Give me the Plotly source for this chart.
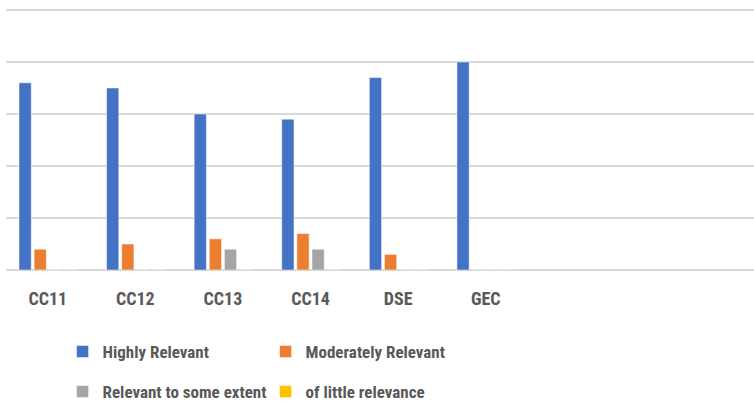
import plotly.graph_objects as go

# courses on the x axis
courses = ["CC11", "CC12", "CC13", "CC14", "DSE", "GEC"]

# responses per course
highly_relevant = [72, 70, 60, 58, 74, 80]
moderately_relevant = [8, 10, 12, 14, 6, 0]
some_extent = [0, 0, 8, 8, 0, 0]
little_relevance = [0, 0, 0, 0, 0, 0]

FONT = "Liberation Sans Narrow, Roboto Condensed, Roboto, Noto Sans"
GREY = "#595959"

fig = go.Figure()
fig.add_trace(go.Bar(x=courses, y=highly_relevant, name="Highly Relevant",
                     marker=dict(color="#4472C4", line=dict(color="white", width=0.5)), legend="legend"))
fig.add_trace(go.Bar(x=courses, y=moderately_relevant, name="Moderately Relevant",
                     marker=dict(color="#ED7D31", line=dict(color="white", width=0.5)), legend="legend"))
fig.add_trace(go.Bar(x=courses, y=some_extent, name="Relevant to some extent",
                     marker=dict(color="#A5A5A5", line=dict(color="white", width=0.5)), legend="legend2"))
fig.add_trace(go.Bar(x=courses, y=little_relevance, name="of little relevance",
                     marker=dict(color="#FFC000", line=dict(color="white", width=0.5)), legend="legend2"))

legend_style = dict(orientation="h", xanchor="left", yanchor="middle", entrywidth=158,
                    xref="container", yref="container", itemwidth=30,
                    font=dict(family=FONT, size=17, color=GREY, weight="bold"),
                    bgcolor="rgba(0,0,0,0)")

fig.update_layout(
    width=754, height=405,
    margin=dict(l=6, r=0, t=8, b=135, autoexpand=False),
    plot_bgcolor="white", paper_bgcolor="white",
    barmode="group", bargap=0.31, bargroupgap=0.19,
    xaxis=dict(range=[-0.477, 8.063], showgrid=False, showline=False, ticks="", automargin=False,
               ticklabelstandoff=16,
               tickfont=dict(family=FONT, size=18, color=GREY, weight="bold")),
    yaxis=dict(range=[0, 100.77], dtick=20, showticklabels=False, gridcolor="#D9D9D9",
               gridwidth=1.5, zeroline=True, zerolinecolor="#D9D9D9", zerolinewidth=2,
               automargin=False),
    legend=dict(x=0.083, y=0.131, **legend_style),
    legend2=dict(x=0.083, y=0.032, **legend_style),
)

# drop the default body margin so the figure sits at the page's top-left corner
fig.write_html("out.html", config={"displayModeBar": False},
               post_script="document.body.style.margin='0';")
